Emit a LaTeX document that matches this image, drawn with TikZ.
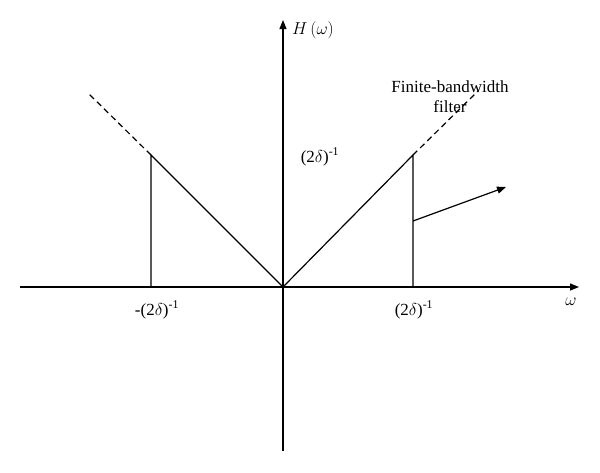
\documentclass[tikz,border=0pt]{standalone}
\usepackage{fontspec}
\setmainfont{Liberation Serif}
\usetikzlibrary{arrows.meta}
\newcommand{\invtwod}{(2$\delta$)\textsuperscript{-1}}
\begin{document}
\begin{tikzpicture}[x=1pt,y=-1pt,
  ln/.style={line width=1.2pt},
  arr/.style={ln,-{Triangle[length=9pt,width=7pt]}},
  lbl/.style={font=\fontsize{17}{20}\selectfont, inner sep=1pt}]
\useasboundingbox (0,0) rectangle (600,472);
\coordinate (O) at (283,287);
\coordinate (xl) at (20,287);
\coordinate (xr) at (579,287);
\coordinate (yb) at (283,451);
\coordinate (yt) at (283,20);
\coordinate (R) at (413,155);
\coordinate (Rb) at (413,287);
\coordinate (Rd) at (478,91);
\coordinate (L) at (151,155);
\coordinate (Lb) at (151,287);
\coordinate (Ld) at (88,93);
\coordinate (as) at (413,221);
\coordinate (ae) at (506,187);
\draw[arr] (xl) -- (xr);
\draw[arr] (yb) -- (yt);
\draw[ln] (O) -- (R) -- (Rb);
\draw[ln] (O) -- (L) -- (Lb);
\draw[ln,dash pattern=on 6pt off 4pt] (R) -- (Rd);
\draw[ln,dash pattern=on 6pt off 4pt] (L) -- (Ld);
\draw[arr] (as) -- (ae);
\node[lbl,anchor=west] (H) at (291,30) {$H\,(\omega)$};
\node[lbl] (ylab) at (320,157) {\invtwod};
\node[lbl] (xlm) at (157,310) {-\invtwod};
\node[lbl] (xlp) at (414,310) {\invtwod};
\node[lbl] (w) at (571,302) {$\omega$};
\node[lbl,align=center] (fb) at (450,97) {Finite-bandwidth\\filter};
\end{tikzpicture}
\end{document}
